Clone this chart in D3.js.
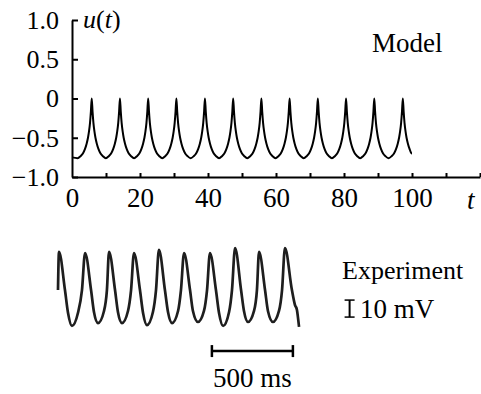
<!DOCTYPE html>
<html>
<head>
<meta charset="utf-8">
<script src="https://cdn.jsdelivr.net/npm/d3@7"></script>
</head>
<body style="margin:0">
<svg id="chart" width="481" height="394" font-family="Liberation Serif" style="display:block"></svg>
<script>
// ---- model panel data ----
let xTicks = [0, 10, 20, 30, 40, 50, 60, 70, 80, 90, 100, 110, 120];
let xLabels = [0, 20, 40, 60, 80, 100];
let yTicks = [1.0, 0.5, 0, -0.5, -1.0];

// spike tops (t) and the troughs between them
let modelPeaks = [5.8, 14.1, 22.4, 30.7, 39.1, 47.4, 55.7, 64.0, 72.3, 80.6, 88.9, 97.3];
let modelTroughs = [1.65, 9.95, 18.25, 26.55, 34.9, 43.25, 51.55, 59.85, 68.15, 76.45, 84.75, 93.1];
let troughU = -0.76;
// one spike, offset from its top
let spikeOffsets = [-3.3, -2.6, -2.0, -1.5, -1.1, -0.8, -0.5, -0.25, 0, 0.25, 0.5, 0.8, 1.1, 1.5, 2.0, 2.6, 3.3];
let spikeValues = [-0.735, -0.70, -0.645, -0.575, -0.50, -0.42, -0.31, -0.17, 0, -0.17, -0.31, -0.42, -0.50, -0.575, -0.645, -0.70, -0.735];
let modelEnds = [[0, -0.75], [100, -0.70]];

// ---- experiment trace (ms, mV) ----
let expTime = [0, 6, 43, 62, 86, 123, 148, 167, 204, 222, 247, 284, 302, 315, 352, 370, 395, 432, 451,
    469, 506, 525, 549, 586, 605, 623, 660, 679, 704, 741, 759, 778, 815, 833, 864, 901, 920,
    938, 975, 994, 1019, 1056, 1074, 1093, 1130, 1148, 1173, 1210, 1228, 1241, 1278, 1296, 1327,
    1364, 1383, 1401, 1444, 1463, 1475, 1481, 1488];
let expMV = [23.5, 45.9, 23.5, 10.0, 2.4, 10.0, 23.5, 45.3, 23.5, 10.6, 4.1, 11.2, 23.5, 45.9, 23.5, 10.6, 4.1, 11.2, 23.5,
    45.3, 23.5, 10.0, 2.9, 10.6, 23.5, 47.1, 23.5, 10.6, 4.1, 11.2, 23.5, 45.3, 23.5, 11.2, 4.7, 11.2, 23.5,
    45.3, 23.5, 10.0, 2.4, 10.6, 23.5, 48.2, 23.5, 11.2, 4.7, 11.2, 23.5, 45.9, 23.5, 11.2, 4.7,
    11.2, 23.5, 48.2, 23.5, 14.7, 11.8, 7.6, 1.8];
let timeBar = [950, 1450];   // 500 ms
let voltBar = [7.6, 17.6];   // 10 mV

let serif = "'Liberation Serif'";
let svg = d3.select("#chart");

let x = d3.scaleLinear().domain([0, 120]).range([72, 480]);
let y = d3.scaleLinear().domain([-1, 1]).range([177, 20]);

// build the model series from the spikes and troughs
let modelData = modelEnds.slice();
modelTroughs.forEach(t => modelData.push([t, troughU]));
modelPeaks.forEach(p => {
    spikeOffsets.forEach((o, i) => {
        if (p + o > 0 && p + o < 100) modelData.push([p + o, spikeValues[i]]);
    });
});
modelData.sort((a, b) => a[0] - b[0]);

// axes
let xAxis = svg.append("g")
    .attr("transform", "translate(0," + y(-1) + ")")
    .call(d3.axisBottom(x)
        .tickValues(xTicks)
        .tickSizeInner(-4)
        .tickSizeOuter(0)
        .tickPadding(11)
        .tickFormat(d => xLabels.indexOf(d) >= 0 ? d : ""));

let yAxis = svg.append("g")
    .attr("transform", "translate(" + x(0) + ",0)")
    .call(d3.axisLeft(y)
        .tickValues(yTicks)
        .tickSizeInner(-6)
        .tickSizeOuter(0)
        .tickPadding(13)
        .tickFormat(d => d == 0 ? "0" : d3.format(".1f")(d)));

xAxis.attr("font-family", "Liberation Serif").attr("font-size", 27);
yAxis.attr("font-family", "Liberation Serif").attr("font-size", 26);

svg.selectAll(".domain, .tick line")
    .style("stroke", "#000")
    .style("stroke-width", 2);
svg.selectAll(".tick text").style("font-family", serif).style("fill", "#000");
xAxis.select(".tick line").remove();

svg.append("path")
    .datum(modelData)
    .attr("fill", "none")
    .style("stroke", "#000")
    .style("stroke-width", 2)
    .attr("d", d3.line()
        .x(d => x(d[0]))
        .y(d => y(d[1]))
        .curve(d3.curveMonotoneX));

let uLabel = svg.append("text").attr("x", 83).attr("y", 28)
    .style("font-family", serif).style("font-size", "26px");
uLabel.append("tspan").style("font-style", "italic").text("u");
uLabel.append("tspan").text("(");
uLabel.append("tspan").style("font-style", "italic").text("t");
uLabel.append("tspan").text(")");

svg.append("text")
    .attr("x", 467).attr("y", 209)
    .style("font-family", serif)
    .style("font-size", "27px")
    .style("font-style", "italic")
    .text("t");

svg.append("text")
    .attr("x", 372).attr("y", 52)
    .style("font-family", serif)
    .style("font-size", "27px")
    .text("Model");

// ---- experiment ----
let xe = d3.scaleLinear().domain([0, 1500]).range([58, 301]);
let ye = d3.scaleLinear().domain([0, 50]).range([330, 245]);

svg.append("path")
    .datum(d3.zip(expTime, expMV))
    .attr("fill", "none")
    .style("stroke", "#1e1e1e")
    .style("stroke-width", 2.7)
    .style("stroke-linejoin", "round")
    .attr("d", d3.line()
        .x(d => xe(d[0]))
        .y(d => ye(d[1]))
        .curve(d3.curveMonotoneX));

// 500 ms bar
let barY = ye(-12.4);
svg.append("line")
    .attr("x1", xe(timeBar[0])).attr("x2", xe(timeBar[1]))
    .attr("y1", barY).attr("y2", barY)
    .style("stroke", "#000").style("stroke-width", 2.5);
timeBar.forEach(t => {
    svg.append("line")
        .attr("x1", xe(t)).attr("x2", xe(t))
        .attr("y1", barY - 6).attr("y2", barY + 6)
        .style("stroke", "#000").style("stroke-width", 2.5);
});
svg.append("text")
    .attr("x", (xe(timeBar[0]) + xe(timeBar[1])) / 2)
    .attr("y", 387)
    .attr("text-anchor", "middle")
    .style("font-family", serif)
    .style("font-size", "27px")
    .text("500 ms");

// 10 mV bar
let vx = xe(1800);
svg.append("line")
    .attr("x1", vx).attr("x2", vx)
    .attr("y1", ye(voltBar[0])).attr("y2", ye(voltBar[1]))
    .style("stroke", "#000").style("stroke-width", 2);
voltBar.forEach(v => {
    svg.append("line")
        .attr("x1", vx - 5).attr("x2", vx + 5)
        .attr("y1", ye(v)).attr("y2", ye(v))
        .style("stroke", "#000").style("stroke-width", 1.5);
});
svg.append("text")
    .attr("x", 360).attr("y", 318)
    .style("font-family", serif)
    .style("font-size", "27px")
    .text("10 mV");

svg.append("text")
    .attr("x", 342).attr("y", 279)
    .style("font-family", serif)
    .style("font-size", "26px")
    .text("Experiment");
</script>
</body>
</html>
